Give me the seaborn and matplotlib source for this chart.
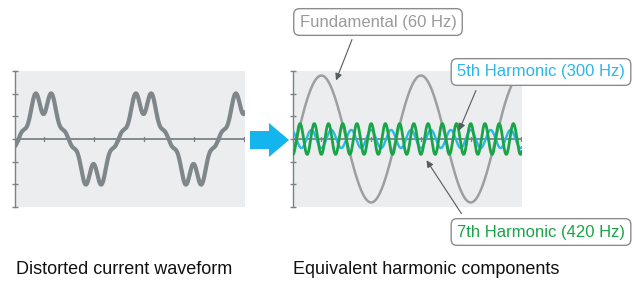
import numpy as np
import pandas as pd
import matplotlib
matplotlib.use("Agg")
import matplotlib.pyplot as plt
import seaborn as sns
from matplotlib.patches import Polygon, FancyArrowPatch

# ---------------- data ----------------
harmonic_names = ["Fundamental (60 Hz)", "5th Harmonic (300 Hz)", "7th Harmonic (420 Hz)"]
harmonic_orders = [1, 5, 7]
harmonic_amplitudes = [2.8, -0.4, 0.68]      # right panel, signed peak values
distorted_amplitudes = [1.7, -0.34, 0.26]    # left panel waveform, same harmonic orders
panel_titles = ["Distorted current waveform", "Equivalent harmonic components"]
cycles_shown = [-0.035, 2.265]               # fundamental cycles shown on each panel

# ---------------- style ----------------
sns.set_theme(style="white")
plt.rcParams["font.family"] = ["Liberation Sans", "DejaVu Sans"]

W, H = 635, 282
fig = plt.figure(figsize=(W / 100, H / 100), dpi=100)
fig.patch.set_facecolor("white")

BG = "#ebedee"
AXC = "#7a8385"
WAVE = "#7f878a"
FUND = "#9c9fa1"
BLUE = "#2ab7ea"
GREEN = "#1aa448"


def fig_rect(x0, y0, x1, y1):
    return [x0 / W, 1 - y1 / H, (x1 - x0) / W, (y1 - y0) / H]


def px(x, y):
    return (x, H - y)


theta = np.linspace(cycles_shown[0], cycles_shown[1], 2000)
comp = {name: a * np.sin(2 * np.pi * n * theta)
        for name, n, a in zip(harmonic_names, harmonic_orders, harmonic_amplitudes)}
df = pd.DataFrame({"cycle": theta, **comp})
df["Distorted"] = sum(a * np.sin(2 * np.pi * n * theta)
                      for n, a in zip(harmonic_orders, distorted_amplitudes))


def style_axes(ax, ylim):
    ax.set_facecolor(BG)
    for s in ["top", "right", "bottom"]:
        ax.spines[s].set_visible(False)
    ax.spines["left"].set_color(AXC)
    ax.spines["left"].set_linewidth(1.0)
    ax.axhline(0, color=AXC, lw=1.3, zorder=1)
    ax.set_ylim(-ylim, ylim)
    ax.set_yticks(np.linspace(-ylim, ylim, 7))
    ax.set_xlim(*cycles_shown)
    ax.set_xticks(np.arange(0, 2.3, 0.25))
    ax.tick_params(axis="y", direction="inout", length=5, width=1, color=AXC, left=True,
                   labelleft=False)
    ax.set_xticklabels([])
    ax.set_ylabel("")
    ax.set_xlabel("")
    for t in ax.get_xticks():
        ax.plot([t, t], [-0.1 * ylim / 3, 0.1 * ylim / 3], color=AXC, lw=1, zorder=1)
    ax.tick_params(axis="x", bottom=False)


# left panel
axL = fig.add_axes(fig_rect(15, 71, 245, 207))
sns.lineplot(data=df, x="cycle", y="Distorted", ax=axL, color=WAVE, lw=3.0, zorder=3)
style_axes(axL, 3.0)

# right panel
axR = fig.add_axes(fig_rect(293, 71, 522, 207))
sns.lineplot(data=df, x="cycle", y=harmonic_names[0], ax=axR, color=FUND, lw=1.8, zorder=3)
sns.lineplot(data=df, x="cycle", y=harmonic_names[1], ax=axR, color=BLUE, lw=1.7, zorder=4)
sns.lineplot(data=df, x="cycle", y=harmonic_names[2], ax=axR, color=GREEN, lw=2.0, zorder=5)
style_axes(axR, 3.0)

# big arrow between panels
arrow = Polygon([
    (250 / W, 1 - 131 / H), (269 / W, 1 - 131 / H), (269 / W, 1 - 123 / H),
    (289 / W, 1 - 140 / H), (269 / W, 1 - 157 / H), (269 / W, 1 - 149 / H),
    (250 / W, 1 - 149 / H)], closed=True, transform=fig.transFigure,
    facecolor="#14b4ec", edgecolor="none")
fig.patches.append(arrow)

# labels with leader arrows
label_specs = [
    (harmonic_names[0], "#9a9a9a", (378, 22), (353, 37), (335, 83)),
    (harmonic_names[1], BLUE, (541, 72), (477, 88), (458, 133)),
    (harmonic_names[2], GREEN, (541, 232), (463, 216), (425, 158)),
]
for text, col, (tx, ty), (sx, sy), (ex, ey) in label_specs:
    fig.add_artist(FancyArrowPatch(
        px(sx, sy), px(ex, ey), transform=None, arrowstyle="-|>,head_length=4,head_width=2",
        color="#555b5e", lw=0.8, mutation_scale=1, zorder=6))
    fig.text(tx / W, 1 - ty / H, text, color=col, fontsize=12, ha="center", va="center",
             fontweight="light",
             bbox=dict(boxstyle="round,pad=0.35,rounding_size=0.35", fc="white",
                       ec="#8a8d8f", lw=1.0), zorder=7)

# panel captions
fig.text(16 / W, 1 - 269 / H, panel_titles[0], fontsize=13, color="#111111", ha="left", va="center")
fig.text(293 / W, 1 - 269 / H, panel_titles[1], fontsize=13, color="#111111", ha="left", va="center")

fig.savefig("out.png", dpi=100, facecolor="white")
